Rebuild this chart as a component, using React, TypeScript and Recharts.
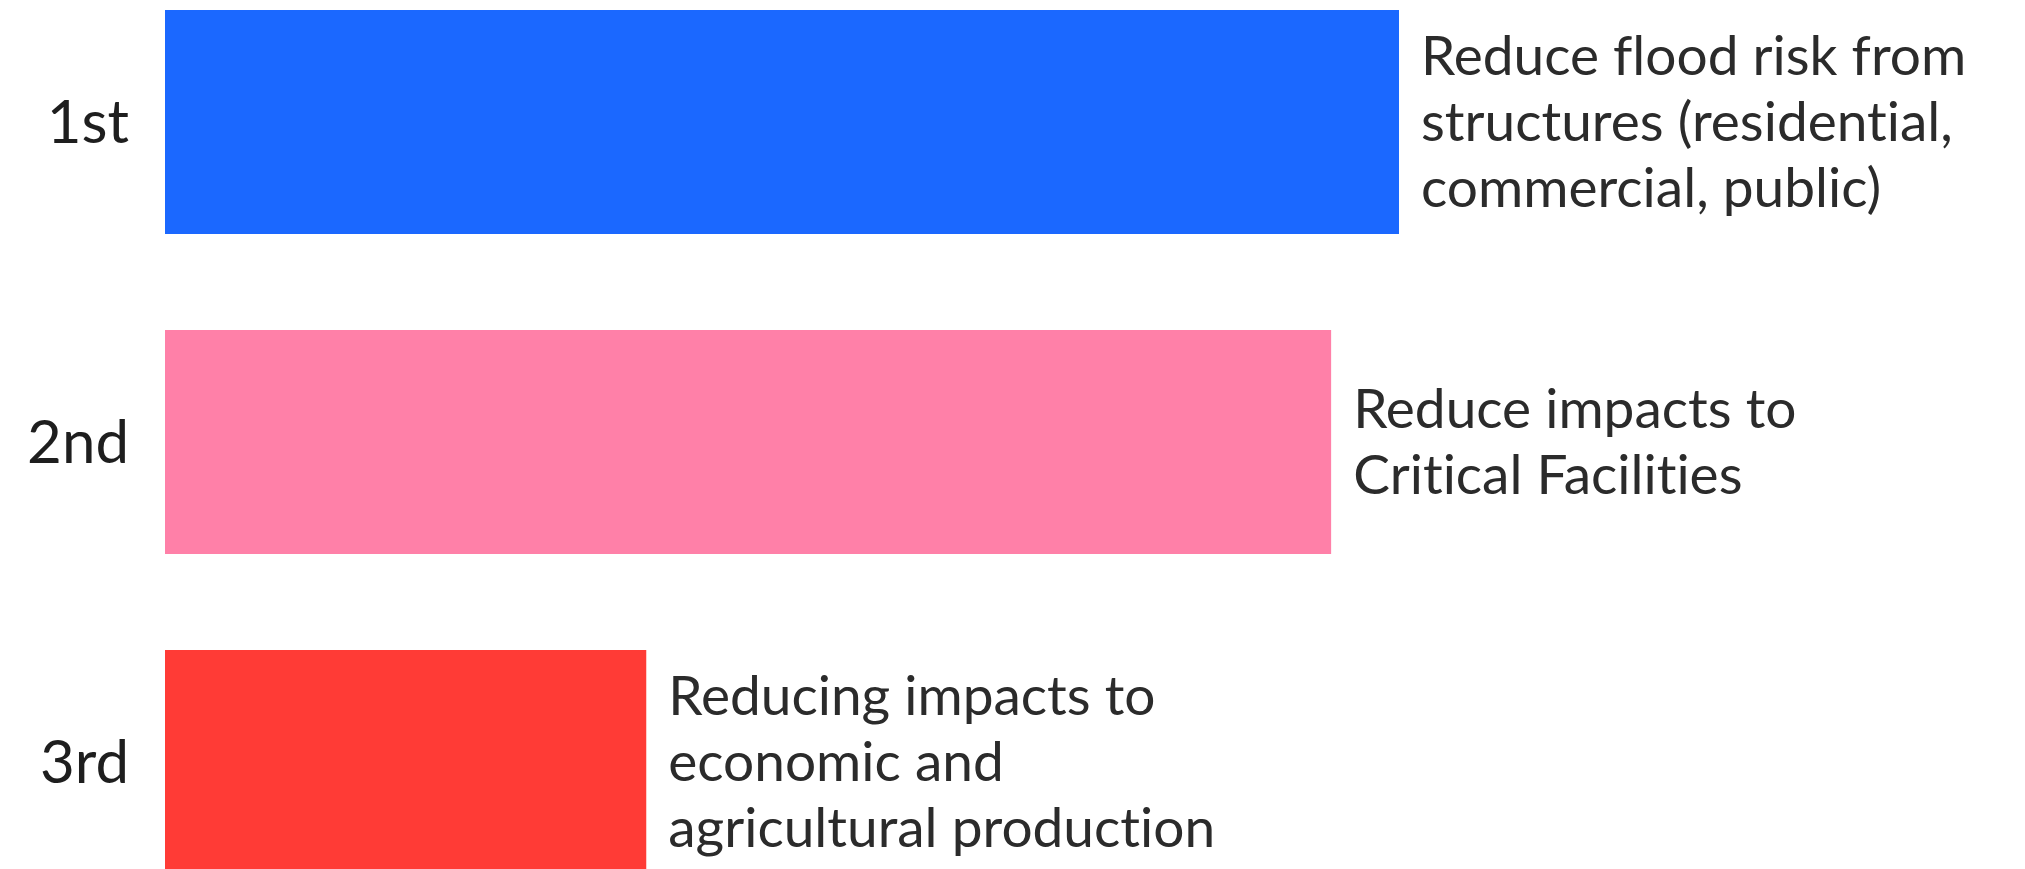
import { BarChart, Bar, XAxis, YAxis, Cell, LabelList } from "recharts";

// Priority ranking — bar length (relative scale 0–100)
const RANKS = ["1st", "2nd", "3rd"];
const SCORES = [100, 94.5, 39];
const COLORS = ["#1B68FF", "#FF80A8", "#FF3B36"];
const DESCRIPTIONS = [
    ["Reduce flood risk from", "structures (residential,", "commercial, public)"],
    ["Reduce impacts to", "Critical Facilities"],
    ["Reducing impacts to", "economic and", "agricultural production"],
];

const data = RANKS.map((rank, i) => ({ rank, score: SCORES[i], idx: i }));

const FONT = "Lato, 'Open Sans', sans-serif";
const LINE_HEIGHT = 66;

function DescriptionLabel(props: any) {
    const { x, y, width, height, index } = props;
    const lines = DESCRIPTIONS[index] ?? [];
    const cy = y + height / 2;
    const firstBaseline = cy - ((lines.length - 1) * LINE_HEIGHT) / 2 + 19;
    return (
        <text
            x={x + width + 22}
            y={firstBaseline}
            fill="#2b2b2b"
            fontSize={55}
            fontFamily={FONT}
            style={{ fontVariantLigatures: "none" }}
        >
            {lines.map((line: string, i: number) => (
                <tspan key={i} x={x + width + 22} y={firstBaseline + i * LINE_HEIGHT}>
                    {line}
                </tspan>
            ))}
        </text>
    );
}

export default function App() {
    return (
        <div style={{ position: "absolute", left: 0, top: -38, width: 2025, background: "#fff" }}>
            <BarChart
                width={2025}
                height={960}
                data={data}
                layout="vertical"
                margin={{ top: 0, right: 626, bottom: 0, left: 0 }}
            >
                <XAxis type="number" domain={[0, 100]} hide />
                <YAxis
                    type="category"
                    dataKey="rank"
                    width={165}
                    axisLine={false}
                    tickLine={false}
                    tickSize={0}
                    tickMargin={36}
                    tick={{ fontSize: 60, fill: "#1e1e1e", fontFamily: FONT }}
                />
                <Bar dataKey="score" barSize={224} isAnimationActive={false}>
                    {data.map((d) => (
                        <Cell key={d.rank} fill={COLORS[d.idx]} />
                    ))}
                    <LabelList dataKey="score" content={<DescriptionLabel />} />
                </Bar>
            </BarChart>
        </div>
    );
}
